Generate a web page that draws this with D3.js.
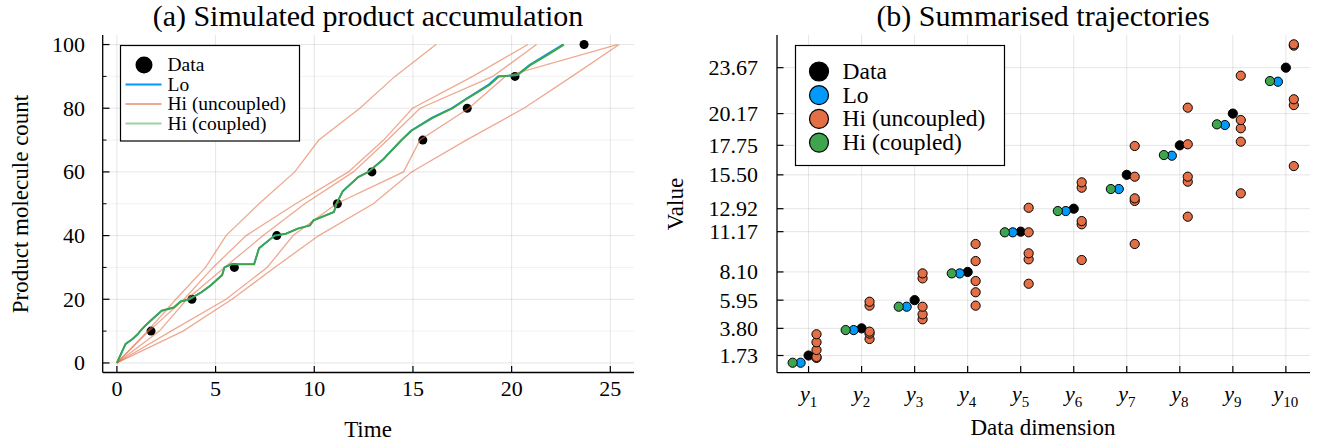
<!DOCTYPE html>
<html>
<head>
<meta charset="utf-8">
<script src="https://cdn.jsdelivr.net/npm/d3@7"></script>
<style>
  html, body { margin: 0; padding: 0; background: #fff; }
  svg text { font-family: "Liberation Serif", "DejaVu Serif", serif; fill: #000; }
</style>
</head>
<body>
<svg id="chart" width="1318" height="443"></svg>
<script>
// ---- data ----
const dims = ["1", "2", "3", "4", "5", "6", "7", "8", "9", "10"];
const dataCounts = [10, 20, 30, 40, 50, 60, 70, 80, 90, 100];
const dataValues = [1.73, 3.80, 5.95, 8.10, 11.17, 12.92, 15.50, 17.75, 20.17, 23.67];
const loValues = [1.18, 3.67, 5.45, 7.99, 11.12, 12.74, 14.42, 16.96, 19.30, 22.60];
const hiCoupledValues = [1.18, 3.67, 5.45, 7.99, 11.12, 12.74, 14.42, 17.01, 19.35, 22.65];

// Hi (uncoupled) runs: time to reach 10, 20, ..., 100 molecules
const hiRun1 = [1.55, 2.99, 4.49, 5.53, 7.20, 9.01, 10.23, 12.31, 14.09, 16.17];
const hiRun2 = [1.62, 3.40, 4.87, 6.55, 9.06, 11.73, 13.51, 14.98, 18.03, 20.82];
const hiRun3 = [2.15, 3.55, 5.45, 7.41, 9.52, 11.98, 13.71, 15.36, 19.05, 21.26];
const hiRun4 = [2.74, 5.53, 7.61, 8.93, 11.12, 14.52, 15.36, 17.83, 19.68, 25.35];
const hiRun5 = [3.35, 5.83, 7.99, 10.23, 12.99, 14.93, 17.70, 20.62, 23.06, 25.45];
const hiRuns = [hiRun1, hiRun2, hiRun3, hiRun4, hiRun5];

// trajectories (time, count)
const hiCoupledPath = [[0,0],[0.44,6],[0.79,7.5],[1.05,9],[1.18,10],[1.4,11.5],[1.66,13],[2.27,16.4],
  [2.88,17.4],[3.23,19.3],[3.67,20],[4.28,22.2],[4.72,24.2],[5.33,27.6],[5.45,30],[5.8,31],[6.95,31],
  [7.2,36],[7.99,40],[8.56,40.6],[9.17,42.2],[9.78,43.2],[9.96,44.8],[11.0,47.4],[11.12,50],[11.44,53.9],
  [12.23,58.4],[12.74,60],[13.5,64],[14.42,70],[14.94,73],[16.0,77],[17.01,80],[17.64,82.6],[18.87,87.3],
  [19.35,90],[20.3,90.4],[20.96,93.6],[21.8,96.7],[22.65,100]];
const loPath = [[0,0],[0.44,6],[0.79,7.5],[1.05,9],[1.18,10],[1.4,11.5],[1.66,13],[2.27,16.4],
  [2.88,17.4],[3.23,19.3],[3.67,20],[4.28,22.2],[4.72,24.2],[5.33,27.6],[5.45,30],[5.8,31],[6.95,31],
  [7.2,36],[7.99,40],[8.56,40.6],[9.17,42.2],[9.78,43.2],[9.96,44.8],[11.0,47.4],[11.12,50],[11.44,53.9],
  [12.23,58.4],[12.74,60],[13.5,64],[14.42,70],[14.9,73],[15.95,77],[16.96,80],[17.6,82.6],[18.8,87.3],
  [19.3,90],[20.25,90.4],[20.9,93.6],[21.7,96.7],[22.6,100]];

const xTicksA = [0, 5, 10, 15, 20, 25];
const yTicksA = [0, 20, 40, 60, 80, 100];
const yMinorA = [10, 30, 50, 70, 90];

const blue = "#009AFA", orange = "#E36F47", green = "#3EA44E";

const svg = d3.select("#chart");
const grid = "rgba(0,0,0,0.1)";

// ===== panel (a) =====
const xa = d3.scaleLinear().domain([-0.72, 26.2]).range([102.7, 634]);
const ya = d3.scaleLinear().domain([-3, 103]).range([372.5, 35]);

const ga = svg.append("g");
ga.selectAll(".vg").data(xTicksA).enter().append("line")
  .attr("x1", d => xa(d)).attr("x2", d => xa(d)).attr("y1", 35).attr("y2", 372.5)
  .attr("stroke", grid).attr("stroke-width", 1);
ga.selectAll(".hg").data(yTicksA).enter().append("line")
  .attr("x1", 102.7).attr("x2", 634).attr("y1", d => ya(d)).attr("y2", d => ya(d))
  .attr("stroke", grid).attr("stroke-width", 1);
ga.selectAll(".hgm").data(yMinorA).enter().append("line")
  .attr("x1", 102.7).attr("x2", 634).attr("y1", d => ya(d)).attr("y2", d => ya(d))
  .attr("stroke", "rgba(0,0,0,0.05)").attr("stroke-width", 1);

// data dots
ga.selectAll(".dd").data(dataValues).enter().append("circle")
  .attr("cx", d => xa(d)).attr("cy", (d, i) => ya(dataCounts[i])).attr("r", 4.5).attr("fill", "#000");

const lineA = d3.line().x(d => xa(d[0])).y(d => ya(d[1]));
ga.append("path").attr("d", lineA(loPath)).attr("fill", "none").attr("stroke", blue).attr("stroke-width", 1.6);
hiRuns.forEach(run => {
  const pts = [[0, 0]].concat(run.map((t, i) => [t, dataCounts[i]]));
  ga.append("path").attr("d", lineA(pts)).attr("fill", "none")
    .attr("stroke", orange).attr("stroke-opacity", 0.6).attr("stroke-width", 1.3);
});
ga.append("path").attr("d", lineA(hiCoupledPath)).attr("fill", "none").attr("stroke", green).attr("stroke-width", 2);

// axes
ga.append("line").attr("x1", 102.7).attr("x2", 102.7).attr("y1", 35).attr("y2", 372.5).attr("stroke", "#000").attr("stroke-width", 1.3);
ga.append("line").attr("x1", 102.7).attr("x2", 634).attr("y1", 372.5).attr("y2", 372.5).attr("stroke", "#000").attr("stroke-width", 1.3);
ga.selectAll(".xt").data(xTicksA).enter().append("line")
  .attr("x1", d => xa(d)).attr("x2", d => xa(d)).attr("y1", 372.5).attr("y2", 366).attr("stroke", "#000").attr("stroke-width", 1.2);
ga.selectAll(".yt").data(yTicksA).enter().append("line")
  .attr("x1", 102.7).attr("x2", 109.5).attr("y1", d => ya(d)).attr("y2", d => ya(d)).attr("stroke", "#000").attr("stroke-width", 1.2);
ga.selectAll(".ytm").data(yMinorA).enter().append("line")
  .attr("x1", 102.7).attr("x2", 106.5).attr("y1", d => ya(d)).attr("y2", d => ya(d)).attr("stroke", "#000").attr("stroke-width", 1);
ga.selectAll(".xl").data(xTicksA).enter().append("text")
  .attr("x", d => xa(d)).attr("y", 396).attr("text-anchor", "middle").style("font-size", "22px").text(d => d);
ga.selectAll(".yl").data(yTicksA).enter().append("text")
  .attr("x", 85).attr("y", d => ya(d) + 7.5).attr("text-anchor", "end").style("font-size", "22px").text(d => d);

ga.append("text").attr("x", 368).attr("y", 437).attr("text-anchor", "middle").style("font-size", "23px").text("Time");
ga.append("text").attr("transform", "translate(28,204) rotate(-90)").attr("text-anchor", "middle")
  .style("font-size", "23px").text("Product molecule count");
ga.append("text").attr("x", 368).attr("y", 26).attr("text-anchor", "middle").style("font-size", "30px")
  .text("(a) Simulated product accumulation");

// legend (a)
const la = ga.append("g");
la.append("rect").attr("x", 120.5).attr("y", 45.5).attr("width", 179).attr("height", 95.5)
  .attr("fill", "#fff").attr("stroke", "#000").attr("stroke-width", 1.2);
const legA = [
  { name: "Data", kind: "dot", color: "#000" },
  { name: "Lo", kind: "line", color: blue, op: 1 },
  { name: "Hi (uncoupled)", kind: "line", color: orange, op: 0.6 },
  { name: "Hi (coupled)", kind: "line", color: green, op: 0.5 }
];
legA.forEach((d, i) => {
  const cy = 65 + i * 19.5;
  if (d.kind === "dot") la.append("circle").attr("cx", 144).attr("cy", cy).attr("r", 8.5).attr("fill", d.color);
  else la.append("line").attr("x1", 125.5).attr("x2", 161.5).attr("y1", cy).attr("y2", cy)
    .attr("stroke", d.color).attr("stroke-opacity", d.op).attr("stroke-width", 1.8);
  la.append("text").attr("x", 167.5).attr("y", cy + 6).style("font-size", "19.5px").text(d.name);
});

// ===== panel (b) =====
const xb = d3.scaleLinear().domain([0.405, 10.455]).range([777, 1310]);
const yb = d3.scaleLinear().domain([0.42, 26.16]).range([372.7, 35]);
const idx = dims.map((d, i) => i + 1);

const gb = svg.append("g");
gb.selectAll(".vg").data(idx).enter().append("line")
  .attr("x1", d => xb(d)).attr("x2", d => xb(d)).attr("y1", 35).attr("y2", 372.7)
  .attr("stroke", grid).attr("stroke-width", 1);
gb.selectAll(".hg").data(dataValues).enter().append("line")
  .attr("x1", 777).attr("x2", 1310).attr("y1", d => yb(d)).attr("y2", d => yb(d))
  .attr("stroke", grid).attr("stroke-width", 1);

function dots(values, offset, color) {
  gb.selectAll(null).data(values).enter().append("circle")
    .attr("cx", (d, i) => xb(i + 1 + offset)).attr("cy", d => yb(d)).attr("r", 4.6)
    .attr("fill", color).attr("stroke", "#000").attr("stroke-width", 1);
}
dots(dataValues, 0, "#000");
dots(loValues, -0.15, blue);
hiRuns.forEach(run => dots(run, 0.15, orange));
dots(hiCoupledValues, -0.3, green);

gb.append("line").attr("x1", 777).attr("x2", 777).attr("y1", 35).attr("y2", 372.7).attr("stroke", "#000").attr("stroke-width", 1.3);
gb.append("line").attr("x1", 777).attr("x2", 1310).attr("y1", 372.7).attr("y2", 372.7).attr("stroke", "#000").attr("stroke-width", 1.3);
gb.selectAll(".xt").data(idx).enter().append("line")
  .attr("x1", d => xb(d)).attr("x2", d => xb(d)).attr("y1", 372.7).attr("y2", 366).attr("stroke", "#000").attr("stroke-width", 1.2);
gb.selectAll(".yt").data(dataValues).enter().append("line")
  .attr("x1", 777).attr("x2", 783.5).attr("y1", d => yb(d)).attr("y2", d => yb(d)).attr("stroke", "#000").attr("stroke-width", 1.2);
gb.selectAll(".yl").data(dataValues).enter().append("text")
  .attr("x", 758).attr("y", d => yb(d) + 7.5).attr("text-anchor", "end").style("font-size", "22px").text(d => d.toFixed(2));
const xl = gb.selectAll(".xl").data(dims).enter().append("text")
  .attr("x", (d, i) => xb(i + 1)).attr("y", 401).attr("text-anchor", "middle").style("font-size", "22px");
xl.append("tspan").style("font-style", "italic").text("y");
xl.append("tspan").attr("dy", 6).style("font-size", "15px").text(d => d);

gb.append("text").attr("x", 1043).attr("y", 435).attr("text-anchor", "middle").style("font-size", "23px").text("Data dimension");
gb.append("text").attr("transform", "translate(683,204) rotate(-90)").attr("text-anchor", "middle")
  .style("font-size", "23px").text("Value");
gb.append("text").attr("x", 1043).attr("y", 26).attr("text-anchor", "middle").style("font-size", "30px")
  .text("(b) Summarised trajectories");

// legend (b)
const lb = gb.append("g");
lb.append("rect").attr("x", 795.5).attr("y", 45.5).attr("width", 209).attr("height", 120)
  .attr("fill", "#fff").attr("stroke", "#000").attr("stroke-width", 1.2);
const legB = [
  { name: "Data", color: "#000" },
  { name: "Lo", color: blue },
  { name: "Hi (uncoupled)", color: orange },
  { name: "Hi (coupled)", color: green }
];
legB.forEach((d, i) => {
  const cy = 71.5 + i * 23.7;
  lb.append("circle").attr("cx", 819).attr("cy", cy).attr("r", 9.5)
    .attr("fill", d.color).attr("stroke", "#000").attr("stroke-width", 1.2);
  lb.append("text").attr("x", 842.5).attr("y", cy + 7.5).style("font-size", "23.5px").text(d.name);
});
</script>
</body>
</html>
